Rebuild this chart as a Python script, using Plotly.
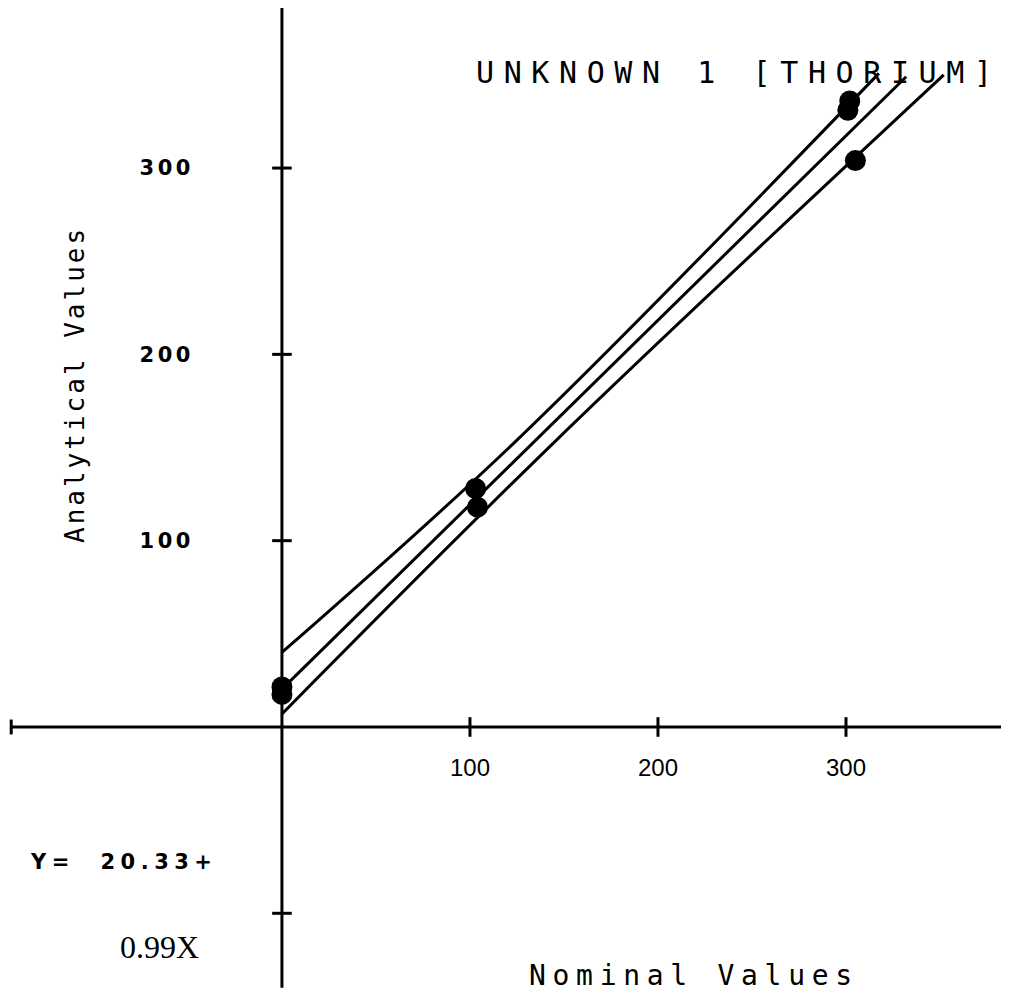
import plotly.graph_objects as go

# ---- data ----
nominal = [0, 0, 103, 104, 301, 302, 305]
analytical = [17.5, 21.5, 128, 118, 331, 336, 304]

fit_x = [0, 332]
fit_y = [20.33, 349]
upper_x = [0, 125, 317.5]
upper_y = [40, 154, 350.8]
lower_x = [0, 146, 352]
lower_y = [7, 154, 350]

x_tick_vals = [100, 200, 300]
x_tick_labels = ["100", "200", "300"]
y_tick_vals = [100, 200, 300]
y_tick_labels = ["100", "200", "300"]
x_tick_marks = [100, 200, 300]
y_tick_marks = [-100, 100, 200, 300]

title_text = "UNKNOWN 1 [THORIUM]"
x_title = "Nominal Values"
y_title = "Analytical Values"
eq_line1 = "Y=  20.33+"
eq_line2 = "0.99X"

# ---- layout geometry (page body has an 8px margin) ----
OFF = 8
W, H = 1009 - OFF, 999 - OFF
X_RANGE = [-145.7, 386.7]
Y_RANGE = [-146.0, 385.9]
X_AXIS_EXTENT = [-144, 386.7]
Y_AXIS_EXTENT = [-140, 385.9]


def spaced(text, px):
    return f'<span style="letter-spacing:{px}px">{text}</span>'


def frac(v, rng):
    return (v - rng[0]) / (rng[1] - rng[0])


def px_x(p):
    return (p - OFF) / W


def px_y(p):
    return 1 - (p - OFF) / H


fig = go.Figure()

line_style = dict(color="black", width=3)
fig.add_trace(go.Scatter(x=upper_x, y=upper_y, mode="lines", line=dict(shape="spline", **line_style),
                         hoverinfo="skip", showlegend=False))
fig.add_trace(go.Scatter(x=fit_x, y=fit_y, mode="lines", line=line_style,
                         hoverinfo="skip", showlegend=False))
fig.add_trace(go.Scatter(x=lower_x, y=lower_y, mode="lines", line=dict(shape="spline", **line_style),
                         hoverinfo="skip", showlegend=False))

fig.add_trace(go.Scatter(x=nominal, y=analytical, mode="markers",
                         marker=dict(color="black", size=21),
                         showlegend=False))

# cross tick marks on the axes
fig.add_trace(go.Scatter(x=x_tick_marks, y=[0] * len(x_tick_marks), mode="markers",
                         marker=dict(symbol="line-ns", size=14, line=dict(color="black", width=3)),
                         hoverinfo="skip", showlegend=False))
fig.add_trace(go.Scatter(x=[0] * len(y_tick_marks), y=y_tick_marks, mode="markers",
                         marker=dict(symbol="line-ew", size=14, line=dict(color="black", width=3)),
                         hoverinfo="skip", showlegend=False))

# axis lines
fig.add_shape(type="line", xref="x", yref="y", x0=X_AXIS_EXTENT[0], x1=X_AXIS_EXTENT[1], y0=0, y1=0,
              line=dict(color="black", width=3))
fig.add_shape(type="line", xref="x", yref="y", x0=X_AXIS_EXTENT[0], x1=X_AXIS_EXTENT[0], y0=-4, y1=4,
              line=dict(color="black", width=3))
fig.add_shape(type="line", xref="x", yref="y", x0=0, x1=0, y0=Y_AXIS_EXTENT[0], y1=Y_AXIS_EXTENT[1],
              line=dict(color="black", width=3))

fig.update_layout(
    width=W, height=H,
    margin=dict(l=0, r=0, t=0, b=0, pad=0),
    paper_bgcolor="white", plot_bgcolor="white",
    showlegend=False,
    xaxis=dict(range=X_RANGE, showgrid=False, zeroline=False, showline=False, ticks="",
               tickmode="array", tickvals=x_tick_vals, ticktext=x_tick_labels,
               tickfont=dict(family="Liberation Sans", size=24, color="black"),
               anchor="free", position=frac(0, Y_RANGE), side="bottom",
               ticklabelstandoff=24, fixedrange=True),
    yaxis=dict(range=Y_RANGE, showgrid=False, zeroline=False, showline=False, ticks="",
               tickmode="array", tickvals=y_tick_vals,
               ticktext=[spaced(t, 3.5) for t in y_tick_labels],
               tickfont=dict(family="DejaVu Sans", size=21, color="black", weight="bold"),
               anchor="free", position=frac(0, X_RANGE), side="left",
               ticklabelstandoff=88, fixedrange=True),
)

fig.add_annotation(text=spaced(title_text, 9.6), xref="paper", yref="paper",
                   x=px_x(474), y=px_y(72), xanchor="left", yanchor="middle", showarrow=False,
                   font=dict(family="DejaVu Sans Mono", size=30, color="black"))
fig.add_annotation(text=spaced(y_title, 3), xref="paper", yref="paper",
                   x=px_x(75), y=px_y(385), xanchor="center", yanchor="middle", showarrow=False,
                   textangle=-90,
                   font=dict(family="DejaVu Sans Mono", size=26, color="black"))
fig.add_annotation(text=spaced(x_title, 6.7), xref="paper", yref="paper",
                   x=px_x(694), y=px_y(975), xanchor="center", yanchor="middle", showarrow=False,
                   font=dict(family="DejaVu Sans Mono", size=28, color="black"))
fig.add_annotation(text=spaced(eq_line1, 5.5), xref="paper", yref="paper",
                   x=px_x(28), y=px_y(862), xanchor="left", yanchor="middle", showarrow=False,
                   font=dict(family="DejaVu Sans", size=21, color="black", weight="bold"))
fig.add_annotation(text=eq_line2, xref="paper", yref="paper",
                   x=px_x(118), y=px_y(947), xanchor="left", yanchor="middle", showarrow=False,
                   font=dict(family="Liberation Serif", size=32, color="black"))

fig.write_html("out.html")
